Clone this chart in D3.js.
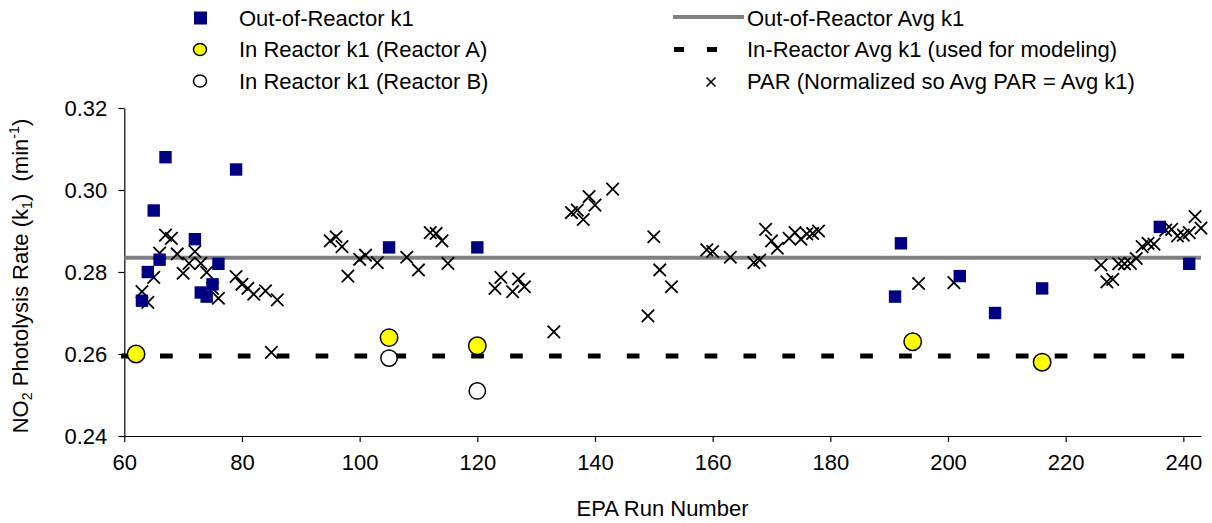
<!DOCTYPE html>
<html><head><meta charset="utf-8">
<script src="https://cdn.jsdelivr.net/npm/d3@7"></script>
<style>body{margin:0;background:#fff}svg{display:block;font-family:"Liberation Sans",Arial,sans-serif}</style>
</head><body><svg id="c" width="1212" height="523"></svg>
<script>
// Out-of-reactor k1 measurements
const outRuns = [63,64,65,66,67,72,73,74,75,76,79,105,120,191,192,202,208,216,236,241];
const outK1   = [0.273,0.280,0.295,0.283,0.308,0.288,0.275,0.274,0.277,0.282,0.305,0.286,0.286,0.274,0.287,0.279,0.270,0.276,0.291,0.282];
// In-reactor k1 (Reactor A)
const aRuns = [62,105,120,194,216];
const aK1   = [0.260,0.264,0.262,0.263,0.258];
// In-reactor k1 (Reactor B)
const bRuns = [105,120];
const bK1   = [0.259,0.251];
// PAR normalized
const parRuns = [63,64,65,66,67,68,69,70,71,72,73,74,75,76,79,80,81,82,84,85,86,
  95,96,97,98,100,101,103,108,110,112,113,114,115,123,124,126,127,128,133,
  136,137,138,139,140,143,149,150,151,153,159,160,163,167,168,169,170,171,
  173,174,175,176,177,178,195,201,226,227,228,229,230,231,232,233,234,235,
  237,238,239,240,241,242,243];
const parVal = [0.2752,0.2726,0.2787,0.2846,0.2890,0.2882,0.2844,0.2797,0.2821,0.2850,0.2821,0.2799,0.2760,0.2736,0.2789,0.2770,0.2760,0.2746,0.2754,0.2604,0.2732,
  0.2876,0.2886,0.2862,0.2790,0.2831,0.2841,0.2823,0.2836,0.2805,0.2896,0.2894,0.2876,0.2821,0.2760,0.2787,0.2752,0.2783,0.2764,0.2654,
  0.2945,0.2951,0.2928,0.2984,0.2963,0.3002,0.2693,0.2886,0.2805,0.2764,0.2854,0.2850,0.2836,0.2823,0.2829,0.2904,0.2876,0.2858,
  0.2882,0.2896,0.2880,0.2893,0.2894,0.2900,0.2772,0.2774,0.2817,0.2776,0.2782,0.2820,0.2820,0.2821,0.2833,0.2862,0.2870,0.2868,
  0.2902,0.2904,0.2888,0.2890,0.2896,0.2935,0.2907];
// Averages
const outAvg = 0.2835;
const inAvg = 0.2595;
// Axes
const xTicks = [60,80,100,120,140,160,180,200,220,240];
const yTicks = [0.24,0.26,0.28,0.30,0.32];
const legendLeft = ["Out-of-Reactor k1","In Reactor k1 (Reactor A)","In Reactor k1 (Reactor B)"];
const legendRight = ["Out-of-Reactor Avg k1","In-Reactor Avg k1 (used for modeling)","PAR (Normalized so Avg PAR = Avg k1)"];

const svg = d3.select("#c");
const x = d3.scaleLinear().domain([60,243]).range([124.3,1201]);
const y = d3.scaleLinear().domain([0.24,0.32]).range([436,108]);
const FS = 22;

// axes
const gx = svg.append("g").attr("transform","translate(0,436)")
  .call(d3.axisBottom(x).tickValues(xTicks).tickSize(6).tickSizeOuter(0).tickFormat(d3.format("d")));
gx.selectAll("text").attr("font-size",FS).attr("font-family","Liberation Sans, Arial").attr("dy","1.12em").attr("fill","#000");
const gy = svg.append("g").attr("transform","translate(124.3,0)")
  .call(d3.axisLeft(y).tickValues(yTicks).tickSize(6).tickSizeOuter(0).tickFormat(d3.format(".2f")));
gy.selectAll("text").attr("font-size",FS).attr("font-family","Liberation Sans, Arial").attr("x",-17).attr("fill","#000");
svg.selectAll(".domain,.tick line").attr("stroke","#000").attr("stroke-width",1.2);

// avg lines
svg.append("line").attr("x1",x(60)).attr("x2",x(243)).attr("y1",y(outAvg)).attr("y2",y(outAvg))
  .attr("stroke","#808080").attr("stroke-width",4);
svg.append("line").attr("x1",121.1).attr("x2",x(243)).attr("y1",y(inAvg)).attr("y2",y(inAvg))
  .attr("stroke","#000").attr("stroke-width",5).attr("stroke-dasharray","12.7,26.2");

// PAR crosses
const xs = 6.2;
const cross = (g,cx,cy,s,w) => g.append("path").attr("d",`M${cx-s},${cy-s}L${cx+s},${cy+s}M${cx-s},${cy+s}L${cx+s},${cy-s}`)
  .attr("stroke","#000").attr("stroke-width",w).attr("fill","none");
const gp = svg.append("g");
parRuns.forEach((r,i)=>cross(gp,x(r),y(parVal[i]),xs,1.8));

// out-of-reactor squares
svg.append("g").selectAll("rect").data(outRuns).join("rect")
  .attr("x",(d)=>x(d)-6.2).attr("y",(d,i)=>y(outK1[i])-6.2).attr("width",12.4).attr("height",12.4).attr("fill","#000080");

// reactor A
svg.append("g").selectAll("circle").data(aRuns).join("circle")
  .attr("cx",d=>x(d)).attr("cy",(d,i)=>y(aK1[i])).attr("r",8.7).attr("fill","#ffff00").attr("stroke","#000").attr("stroke-width",1.5);
// reactor B
svg.append("g").selectAll("circle").data(bRuns).join("circle")
  .attr("cx",d=>x(d)).attr("cy",(d,i)=>y(bK1[i])).attr("r",8.2).attr("fill","#fff").attr("stroke","#000").attr("stroke-width",1.5);

// axis titles
svg.append("text").attr("x",662.5).attr("y",516).attr("text-anchor","middle").attr("font-size",FS).text("EPA Run Number");
const yt = svg.append("text").attr("transform","translate(28,276) rotate(-90)").attr("text-anchor","middle").attr("font-size",FS);
yt.append("tspan").text("NO");
yt.append("tspan").attr("font-size",FS*0.65).attr("dy",4).text("2");
yt.append("tspan").attr("dy",-4).text(" Photolysis Rate (k");
yt.append("tspan").attr("font-size",FS*0.65).attr("dy",4).text("1");
yt.append("tspan").attr("dy",-4).text(")\u00a0 (min");
yt.append("tspan").attr("font-size",FS*0.65).attr("dy",-9).text("-1");
yt.append("tspan").attr("dy",9).text(")");

// legend
const rows = [18,49.5,81];
legendLeft.forEach((t,i)=>svg.append("text").attr("x",239).attr("y",rows[i]).attr("dy","0.35em").attr("font-size",FS).text(t));
legendRight.forEach((t,i)=>svg.append("text").attr("x",747).attr("y",rows[i]).attr("dy","0.35em").attr("font-size",FS).text(t));
svg.append("rect").attr("x",194).attr("y",rows[0]-6.5).attr("width",13).attr("height",13).attr("fill","#000080");
svg.append("ellipse").attr("cx",200).attr("cy",rows[1]).attr("rx",6.5).attr("ry",6).attr("fill","#ffff00").attr("stroke","#000").attr("stroke-width",1.5);
svg.append("ellipse").attr("cx",200).attr("cy",rows[2]).attr("rx",6.5).attr("ry",6).attr("fill","#fff").attr("stroke","#000").attr("stroke-width",1.5);
svg.append("line").attr("x1",673).attr("x2",744).attr("y1",rows[0]-1).attr("y2",rows[0]-1).attr("stroke","#808080").attr("stroke-width",4);
svg.append("line").attr("x1",674).attr("x2",718).attr("y1",rows[1]).attr("y2",rows[1]).attr("stroke","#000").attr("stroke-width",5).attr("stroke-dasharray","10,23");
cross(svg,711,rows[2]+1,4.5,1.6);
</script></body></html>
